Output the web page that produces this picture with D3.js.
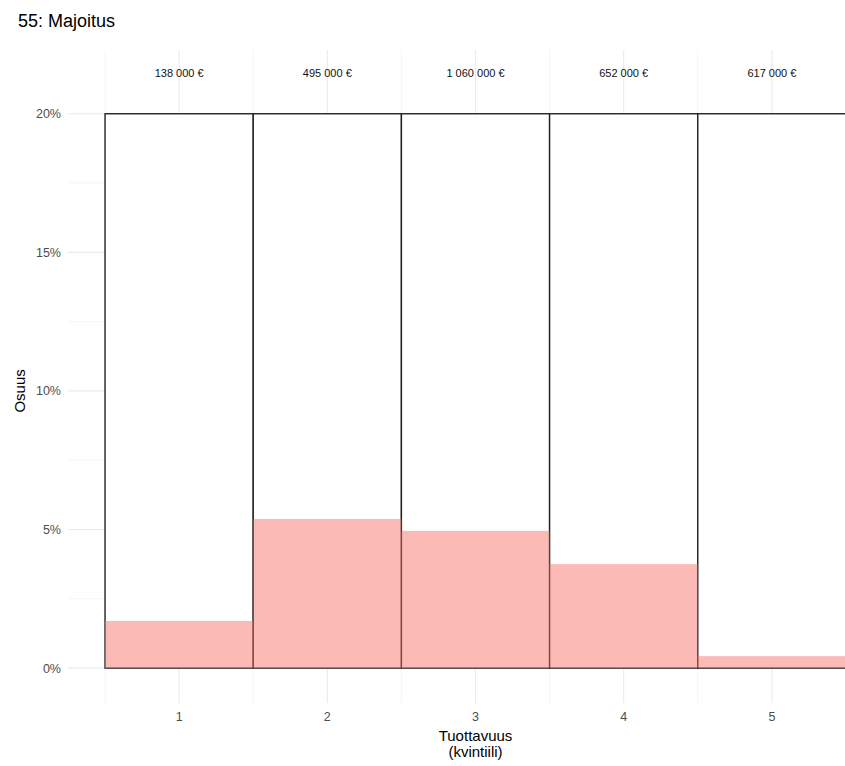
<!DOCTYPE html>
<html>
<head>
<meta charset="utf-8">
<script src="https://cdn.jsdelivr.net/npm/d3@7"></script>
<style>
  body { margin: 0; background: #fff; }
  text { font-family: "Liberation Sans", Arial, sans-serif; }
</style>
</head>
<body>
<div id="chart"></div>
<script>
const kvintiilit = [1, 2, 3, 4, 5];
const osuudet = [0.0170, 0.0538, 0.0495, 0.0375, 0.0043];
const kokonais = [0.20, 0.20, 0.20, 0.20, 0.20];
const tuottavuus = ['138 000 €', '495 000 €', '1 060 000 €', '652 000 €', '617 000 €'];
const yTicks = [0, 0.05, 0.10, 0.15, 0.20];
const yMinor = [0.025, 0.075, 0.125, 0.175];

const leveys = 845, korkeus = 766;
const paneeli = { vasen: 68, oikea: 883, yla: 50, ala: 703 };

const svg = d3.select('#chart')
    .append('svg')
    .attr('width', leveys)
    .attr('height', korkeus);

const x = d3.scaleLinear()
    .domain([0.25, 5.75])
    .range([paneeli.vasen, paneeli.oikea]);
const y = d3.scaleLinear()
    .domain([-0.0126, 0.223])
    .range([paneeli.ala, paneeli.yla]);

// ruudukko
const grid = svg.append('g').attr('class', 'grid');
grid.selectAll('.ymin').data(yMinor).enter().append('line')
    .attr('x1', paneeli.vasen).attr('x2', paneeli.oikea)
    .attr('y1', d => y(d)).attr('y2', d => y(d))
    .attr('stroke', '#f2f2f2').attr('stroke-width', 0.8);
grid.selectAll('.ymaj').data(yTicks).enter().append('line')
    .attr('x1', paneeli.vasen).attr('x2', paneeli.oikea)
    .attr('y1', d => y(d)).attr('y2', d => y(d))
    .attr('stroke', '#ebebeb').attr('stroke-width', 1.1);
grid.selectAll('.xmin').data(kvintiilit.map(d => d - 0.5).concat([5.5])).enter().append('line')
    .attr('x1', d => x(d)).attr('x2', d => x(d))
    .attr('y1', paneeli.yla).attr('y2', paneeli.ala)
    .attr('stroke', '#f2f2f2').attr('stroke-width', 0.8);
grid.selectAll('.xmaj').data(kvintiilit).enter().append('line')
    .attr('x1', d => x(d)).attr('x2', d => x(d))
    .attr('y1', paneeli.yla).attr('y2', paneeli.ala)
    .attr('stroke', '#ebebeb').attr('stroke-width', 1.1);

// ääriviivapylväät
svg.append('g')
    .selectAll('rect')
    .data(kvintiilit)
    .enter()
    .append('rect')
    .attr('x', (d, i) => x(d - 0.5))
    .attr('y', (d, i) => y(kokonais[i]))
    .attr('width', d => x(d + 0.5) - x(d - 0.5))
    .attr('height', (d, i) => y(0) - y(kokonais[i]))
    .attr('fill', 'white')
    .attr('stroke', '#222')
    .attr('stroke-width', 1.4);

// osuudet
svg.append('g')
    .selectAll('rect')
    .data(kvintiilit)
    .enter()
    .append('rect')
    .attr('x', d => x(d - 0.5))
    .attr('y', (d, i) => y(osuudet[i]))
    .attr('width', d => x(d + 0.5) - x(d - 0.5))
    .attr('height', (d, i) => y(0) - y(osuudet[i]))
    .attr('fill', '#f8766d')
    .attr('fill-opacity', 0.5);

// tuottavuustekstit
svg.append('g')
    .selectAll('text')
    .data(kvintiilit)
    .enter()
    .append('text')
    .attr('x', d => x(d))
    .attr('y', y(0.2147) + 4)
    .attr('text-anchor', 'middle')
    .attr('font-size', 11)
    .attr('fill', '#111')
    .text((d, i) => tuottavuus[i]);

// y-akseli
svg.append('g')
    .selectAll('text')
    .data(yTicks)
    .enter()
    .append('text')
    .attr('x', 61)
    .attr('y', d => y(d) + 4.5)
    .attr('text-anchor', 'end')
    .attr('font-size', 12.5)
    .attr('fill', '#4d4d4d')
    .text(d => d3.format('.0%')(d));

// x-akseli
svg.append('g')
    .selectAll('text')
    .data(kvintiilit)
    .enter()
    .append('text')
    .attr('x', d => x(d))
    .attr('y', 721)
    .attr('text-anchor', 'middle')
    .attr('font-size', 12.5)
    .attr('fill', '#4d4d4d')
    .text(d => d);

// otsikot
svg.append('text')
    .attr('x', 18).attr('y', 27)
    .attr('font-size', 18)
    .attr('fill', '#000')
    .text('55: Majoitus');

svg.append('text')
    .attr('transform', `translate(25,${(y(0.2) + y(0)) / 2}) rotate(-90)`)
    .attr('text-anchor', 'middle')
    .attr('font-size', 15)
    .attr('fill', '#000')
    .text('Osuus');

const xOtsikko = svg.append('text')
    .attr('text-anchor', 'middle')
    .attr('font-size', 15)
    .attr('fill', '#000');
xOtsikko.append('tspan').attr('x', x(3)).attr('y', 741).text('Tuottavuus');
xOtsikko.append('tspan').attr('x', x(3)).attr('y', 757).text('(kvintiili)');
</script>
</body>
</html>
